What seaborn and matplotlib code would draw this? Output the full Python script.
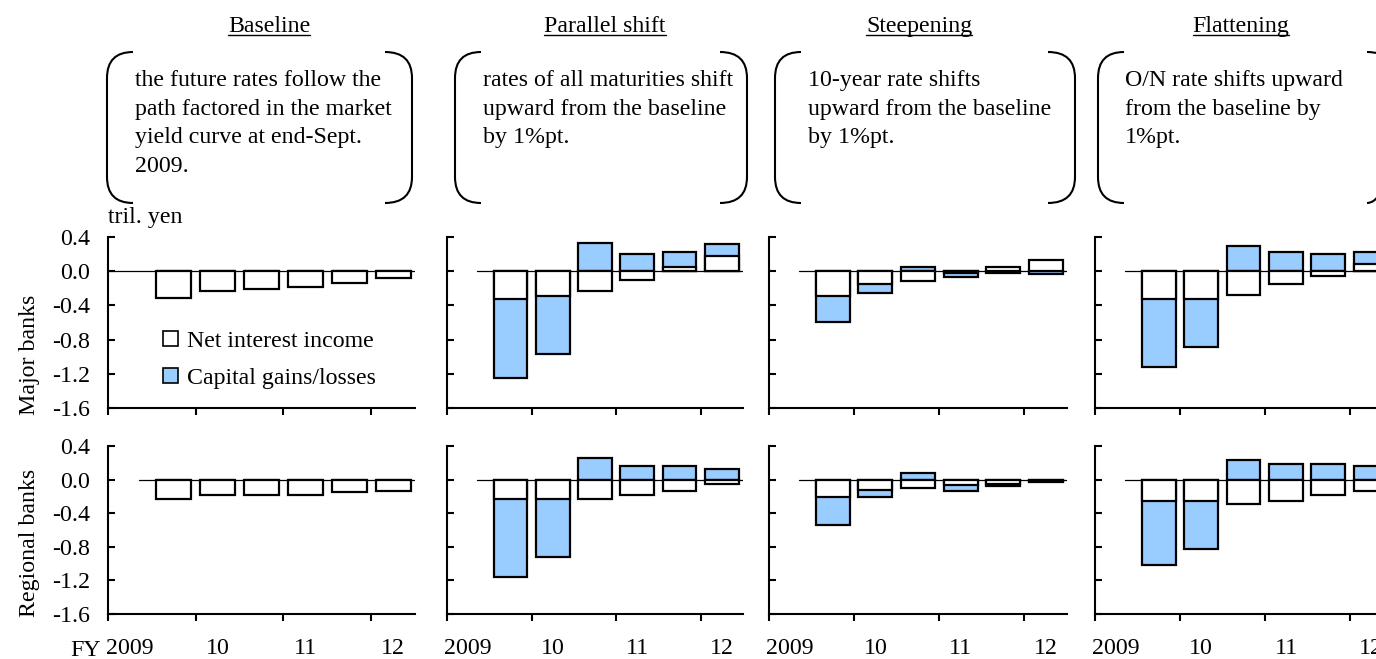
import matplotlib
matplotlib.use("Agg")
import matplotlib.pyplot as plt
import matplotlib.transforms as mtransforms
from matplotlib.path import Path
from matplotlib.patches import PathPatch, Patch
from matplotlib.lines import Line2D
import numpy as np
import pandas as pd
import seaborn as sns

# ---- data (tril. yen), half-year periods FY2009 H1 .. FY2012 H1 ----
periods = ["2009H1", "2009H2", "2010H1", "2010H2", "2011H1", "2011H2", "2012H1"]
bar_periods = periods[1:]
year_labels = ["2009", "10", "11", "12"]

scenarios = ["Baseline", "Parallel shift", "Steepening", "Flattening"]
scenario_notes = [
    "the future rates follow the\npath factored in the market\nyield curve at end-Sept.\n2009.",
    "rates of all maturities shift\nupward from the baseline\nby 1%pt.",
    "10-year rate shifts\nupward from the baseline\nby 1%pt.",
    "O/N rate shifts upward\nfrom the baseline by\n1%pt.",
]

major_nii_baseline = [-0.31, -0.23, -0.21, -0.19, -0.14, -0.08]
major_cap_baseline = [0.0, 0.0, 0.0, 0.0, 0.0, 0.0]
major_nii_parallel = [-0.33, -0.29, -0.23, -0.10, 0.05, 0.18]
major_cap_parallel = [-0.92, -0.68, 0.33, 0.20, 0.17, 0.14]
major_nii_steep = [-0.29, -0.15, -0.11, -0.02, 0.05, 0.13]
major_cap_steep = [-0.30, -0.10, 0.05, -0.05, -0.02, -0.03]
major_nii_flat = [-0.33, -0.33, -0.28, -0.15, -0.06, 0.08]
major_cap_flat = [-0.79, -0.56, 0.30, 0.22, 0.20, 0.15]

regional_nii_baseline = [-0.23, -0.18, -0.18, -0.18, -0.15, -0.13]
regional_cap_baseline = [0.0, 0.0, 0.0, 0.0, 0.0, 0.0]
regional_nii_parallel = [-0.235, -0.235, -0.235, -0.18, -0.13, -0.05]
regional_cap_parallel = [-0.93, -0.69, 0.26, 0.16, 0.16, 0.125]
regional_nii_steep = [-0.21, -0.125, -0.105, -0.07, -0.05, -0.015]
regional_cap_steep = [-0.33, -0.08, 0.08, -0.06, -0.03, -0.01]
regional_nii_flat = [-0.255, -0.255, -0.285, -0.26, -0.185, -0.13]
regional_cap_flat = [-0.76, -0.575, 0.23, 0.18, 0.18, 0.16]

rows = [
    ("Major banks", [(major_nii_baseline, major_cap_baseline),
                     (major_nii_parallel, major_cap_parallel),
                     (major_nii_steep, major_cap_steep),
                     (major_nii_flat, major_cap_flat)]),
    ("Regional banks", [(regional_nii_baseline, regional_cap_baseline),
                        (regional_nii_parallel, regional_cap_parallel),
                        (regional_nii_steep, regional_cap_steep),
                        (regional_nii_flat, regional_cap_flat)]),
]

yticks = [0.4, 0.0, -0.4, -0.8, -1.2, -1.6]
BLUE = "#99CCFF"

# ---- layout in pixels ----
W, H = 1376, 659
col_left = [108, 447, 769, 1095]
col_width = [307, 296, 298, 297]
row_top = [237, 446]
row_bottom = [408, 614]
bracket_x = [(107, 133, 385, 412), (455, 481, 720, 747), (775, 801, 1048, 1075), (1098, 1124, 1367, 1394)]
text_x = [135, 483, 808, 1125]
title_x = [269, 605, 919, 1241]

sns.set_theme(style="white")
plt.rcParams["font.family"] = ["Liberation Serif", "DejaVu Serif"]
plt.rcParams["axes.unicode_minus"] = False
for k in ["text.color", "axes.labelcolor", "xtick.color", "ytick.color"]:
    plt.rcParams[k] = "black"
FS = 17.2

fig = plt.figure(figsize=(W / 100, H / 100), dpi=100)
pix = mtransforms.Affine2D().scale(1 / W, -1 / H).translate(0, 1) + fig.transFigure


def draw_bracket(x_in, x_edge, y0, y1, r=26):
    verts = [(x_in, y0), (x_edge, y0), (x_edge, y0 + r),
             (x_edge, y1 - r), (x_edge, y1), (x_in, y1)]
    codes = [Path.MOVETO, Path.CURVE3, Path.CURVE3, Path.LINETO, Path.CURVE3, Path.CURVE3]
    fig.add_artist(PathPatch(Path(verts, codes), transform=pix, fill=False,
                             edgecolor="black", linewidth=1.5))


for r, (row_name, panels) in enumerate(rows):
    for c, (nii, cap) in enumerate(panels):
        left = col_left[c] / W
        bottom = 1 - row_bottom[r] / H
        ax = fig.add_axes([left, bottom, col_width[c] / W, (row_bottom[r] - row_top[r]) / H])

        nii = np.array(nii)
        cap = np.array(cap)
        # capital bar stacks onto net interest income when both share a sign
        outer = np.where(np.sign(nii) == np.sign(cap), nii + cap, cap)
        df = pd.DataFrame({"period": bar_periods, "nii": nii, "outer": outer})

        sns.barplot(data=df, x="period", y="outer", order=periods, color=BLUE,
                    saturation=1, edgecolor="black", linewidth=1.6, width=0.8,
                    errorbar=None, ax=ax)
        sns.barplot(data=df, x="period", y="nii", order=periods, color="white",
                    saturation=1, edgecolor="black", linewidth=1.6, width=0.8,
                    errorbar=None, ax=ax)

        ax.axhline(0, xmin=0.0 if (r == 0 and c == 0) else 0.1, color="black", linewidth=0.9, zorder=0.5)
        ax.set_ylim(-1.6, 0.4)
        ax.set_xlim(-0.5, 6.5)
        ax.set_xlabel("")
        ax.set_ylabel("")
        for s in ["top", "right"]:
            ax.spines[s].set_visible(False)
        for s in ["left", "bottom"]:
            ax.spines[s].set_color("black")
            ax.spines[s].set_linewidth(1.5)

        ax.set_yticks(yticks)
        if c == 0:
            ax.set_yticklabels([f"{v:.1f}" for v in yticks], fontsize=FS)
        else:
            ax.set_yticklabels([])
        ax.tick_params(axis="y", direction="in", length=5, width=1.5, color="black", pad=13, left=True)

        ax.set_xticks([-0.5, 1.5, 3.5, 5.5])
        ax.set_xticklabels([])
        ax.tick_params(axis="x", which="major", direction="out", length=5, width=1.5, color="black", bottom=True)
        ax.set_xticks([0, 2, 4, 6], minor=True)
        if r == 1:
            ax.set_xticklabels(year_labels, minor=True, fontsize=FS)
        else:
            ax.set_xticklabels([], minor=True)
        ax.tick_params(axis="x", which="minor", length=0, pad=17)
        ax.patch.set_alpha(0)

        if r == 0 and c == 0:
            ax.legend(handles=[Patch(facecolor="white", edgecolor="black", linewidth=1.2),
                               Patch(facecolor=BLUE, edgecolor="black", linewidth=1.2)],
                      labels=["Net interest income", "Capital gains/losses"],
                      loc="upper left", bbox_to_anchor=(0.11, 0.575), frameon=False,
                      fontsize=FS, handlelength=0.6, handleheight=0.6,
                      handletextpad=0.4, labelspacing=0.65)

    fig.text(30 / W, 1 - (355 if r == 0 else 543) / H, row_name, rotation=90,
             ha="center", va="center", fontsize=FS)

fig.text(108 / W, 1 - 217 / H, "tril. yen", ha="left", va="center", fontsize=FS)
fig.text(101 / W, 1 - 650 / H, "FY", ha="right", va="center", fontsize=FS)

titles = []
for c in range(4):
    t = fig.text(title_x[c] / W, 1 - 32 / H, scenarios[c], ha="center", va="baseline", fontsize=FS)
    titles.append(t)
    x_edge_l, x_in_l, x_in_r, x_edge_r = bracket_x[c]
    draw_bracket(x_in_l, x_edge_l, 52, 203)
    draw_bracket(x_in_r, x_edge_r, 52, 203)
    fig.text(text_x[c] / W, 1 - 70 / H, scenario_notes[c], ha="left", va="top",
             fontsize=FS, linespacing=1.47)

# underline the scenario titles
fig.canvas.draw()
renderer = fig.canvas.get_renderer()
for t in titles:
    bb = t.get_window_extent(renderer)
    y = 1 - 35 / H
    fig.add_artist(Line2D([bb.x0 / W, bb.x1 / W], [y, y], transform=fig.transFigure,
                          color="black", linewidth=1.0))

fig.savefig("out.png", dpi=100)
plt.close()
